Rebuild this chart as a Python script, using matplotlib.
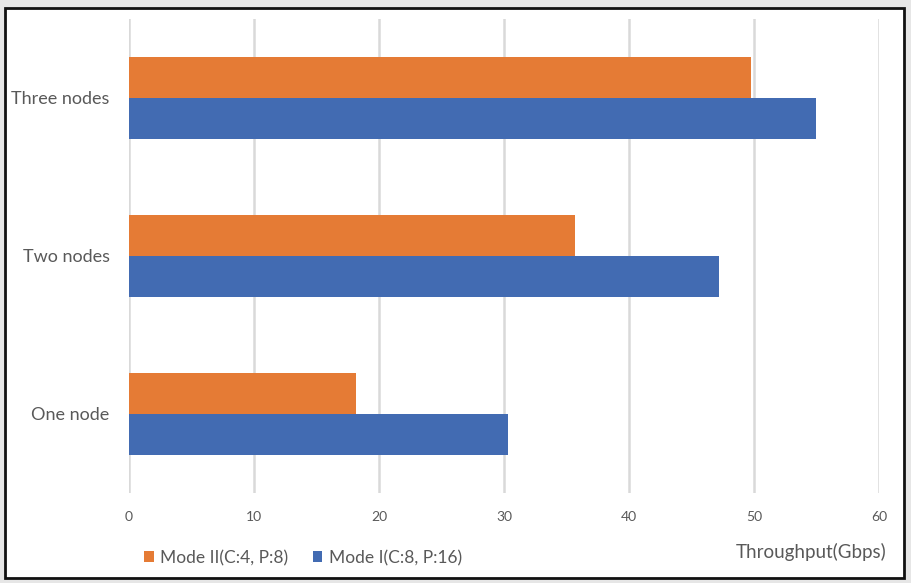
import matplotlib
matplotlib.use("Agg")
import matplotlib.pyplot as plt
from matplotlib.patches import Rectangle, Patch
import numpy as np

categories = ["One node", "Two nodes", "Three nodes"]
mode2 = [18.2, 35.7, 49.8]   # Mode II(C:4, P:8)
mode1 = [30.3, 47.2, 55.0]   # Mode I(C:8, P:16)
xticks = [0, 10, 20, 30, 40, 50, 60]
legend_labels = ["Mode II(C:4, P:8)", "Mode I(C:8, P:16)"]
xlabel = "Throughput(Gbps)"

orange = "#E57B35"
blue = "#426BB2"
textc = "#595959"

plt.rcParams['font.family'] = ['Lato', 'DejaVu Sans']

W, H = 912, 583
fig = plt.figure(figsize=(W/100, H/100), dpi=100)
fig.patch.set_facecolor("white")

# outer frame with gray shadow strip
fig.add_artist(Rectangle((0, 0), 1, 1, transform=fig.transFigure, facecolor="#E6E6E6", edgecolor="none", zorder=-3))
fig.add_artist(Rectangle((5/W, 1 - 578/H), (904-5)/W, (578-8)/H, transform=fig.transFigure,
                         facecolor="white", edgecolor="#111111", linewidth=2, zorder=-2))

ax = fig.add_axes([129/W, 1 - 493/H, (879-129)/W, (493-19)/H])
y = np.arange(len(categories))
h = 0.26
ax.barh(y + h/2, mode2, height=h, color=orange, zorder=3)
ax.barh(y - h/2, mode1, height=h, color=blue, zorder=3)

ax.set_xlim(0, 60)
ax.set_ylim(-0.5, len(categories) - 0.5)
ax.set_xticks(xticks)
ax.set_xticklabels([str(t) for t in xticks], fontsize=10, color=textc)
ax.set_yticks(y)
ax.set_yticklabels(categories, fontsize=13, color=textc)
ax.tick_params(axis='both', length=0)
ax.tick_params(axis='x', pad=13)
ax.tick_params(axis='y', pad=14)
ax.grid(axis='x', color="#D9D9D9", linewidth=1.8, zorder=0)
ax.set_axisbelow(True)
for s in ax.spines.values():
    s.set_visible(False)

handles = [Patch(facecolor=orange), Patch(facecolor=blue)]
fig.legend(handles, legend_labels, loc="center left", bbox_to_anchor=(144/W, 1 - 558/H),
           ncol=2, frameon=False, fontsize=12.5, handlelength=0.55, handleheight=0.6,
           handletextpad=0.4, columnspacing=1.4, labelcolor=textc, borderpad=0, borderaxespad=0)
fig.text(887/W, 1 - 552/H, xlabel, ha="right", va="center", fontsize=13.5, color=textc)

fig.savefig("out.png", dpi=100)
